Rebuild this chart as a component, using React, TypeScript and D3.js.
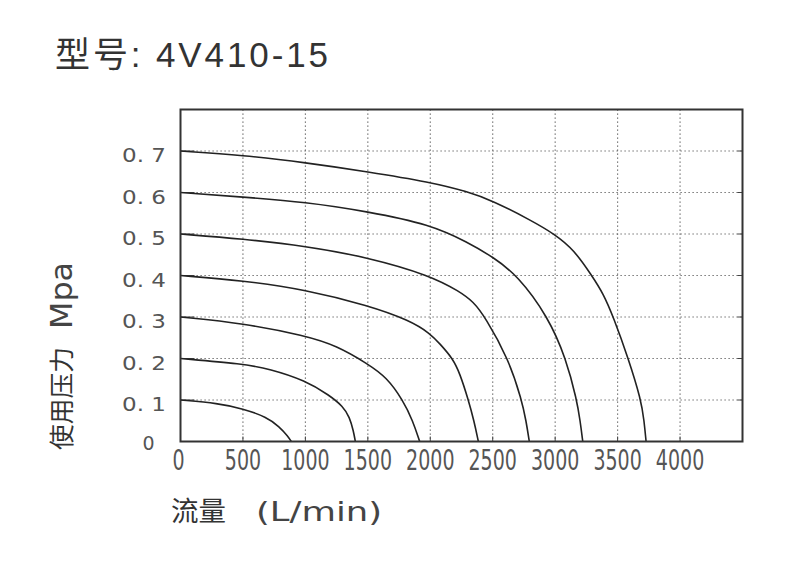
import React from "react";
import * as d3 from "d3";

// ---- data ----
const xTicks = [0, 500, 1000, 1500, 2000, 2500, 3000, 3500, 4000];
const yTicks = [0.1, 0.2, 0.3, 0.4, 0.5, 0.6, 0.7];
const yTickLabels = ["0. 1", "0. 2", "0. 3", "0. 4", "0. 5", "0. 6", "0. 7"];

const curve01: [number, number][] = [[0, 0.1], [300, 0.092], [500, 0.079], [690, 0.059], [790, 0.036], [860, 0.013], [887, 0]];
const curve02: [number, number][] = [[0, 0.2], [500, 0.187], [713, 0.175], [1000, 0.147], [1194, 0.111], [1300, 0.085], [1354, 0.059], [1385, 0.025], [1400, 0]];
const curve03: [number, number][] = [[0, 0.3], [500, 0.285], [1000, 0.255], [1250, 0.231], [1500, 0.187], [1650, 0.155], [1780, 0.1], [1860, 0.05], [1915, 0]];
const curve04: [number, number][] = [[0, 0.4], [500, 0.388], [1000, 0.366], [1500, 0.328], [1835, 0.292], [2000, 0.26], [2075, 0.236], [2180, 0.2], [2237, 0.164], [2305, 0.1], [2350, 0.05], [2385, 0]];
const curve05: [number, number][] = [[0, 0.5], [500, 0.488], [1000, 0.471], [1500, 0.444], [2000, 0.4], [2237, 0.361], [2344, 0.337], [2439, 0.3], [2625, 0.2], [2732, 0.1], [2767, 0.05], [2793, 0]];
const curve06: [number, number][] = [[0, 0.6], [500, 0.589], [1000, 0.577], [1500, 0.554], [2000, 0.523], [2300, 0.48], [2500, 0.445], [2700, 0.4], [2944, 0.3], [3087, 0.2], [3173, 0.1], [3200, 0.05], [3221, 0]];
const curve07: [number, number][] = [[0, 0.7], [500, 0.69], [1000, 0.672], [1500, 0.65], [2000, 0.625], [2300, 0.602], [2500, 0.58], [2800, 0.534], [3000, 0.499], [3150, 0.462], [3293, 0.4], [3386, 0.356], [3466, 0.3], [3586, 0.2], [3688, 0.1], [3712, 0.05], [3728, 0]];
const curves = [curve01, curve02, curve03, curve04, curve05, curve06, curve07];

const title = "型号: 4V410-15";
const yTitleCJK = "使用压力";
const yTitleUnit = "Mpa";
const xTitleCJK = "流量";
const xTitleUnit = "(L/min)";

export default function App() {
  const W = 800, H = 575;
  const left = 180.5, right = 742.5, top = 109.5, bottom = 441.5;
  const x = d3.scaleLinear().domain([0, 4500]).range([left, right]);
  const y = d3.scaleLinear().domain([0, 0.8]).range([bottom, top]);
  const line = d3.line<[number, number]>().x(d => x(d[0])).y(d => y(d[1])).curve(d3.curveBasis);
  const tickFont = "'DejaVu Sans', sans-serif";
  const grid = "#555";

  return (
    <svg width={W} height={H} style={{ position: "absolute", left: 0, top: 0, background: "#fff" }}>
      <rect x={0} y={0} width={W} height={H} fill="#fff" />
      {/* title */}
      <text x={55} y={67} fontSize={35} fill="#333" textLength={273} lengthAdjust="spacing"
        fontFamily="'Liberation Sans', 'Noto Sans CJK SC', sans-serif">{title}</text>

      {/* grid */}
      {yTicks.map(t => (
        <line key={"gy" + t} x1={left} x2={right} y1={y(t)} y2={y(t)} stroke={grid} strokeWidth={1.1} strokeDasharray="1.2 2.8" />
      ))}
      {xTicks.filter(t => t > 0).map(t => (
        <line key={"gx" + t} x1={x(t)} x2={x(t)} y1={top} y2={bottom} stroke={grid} strokeWidth={1.1} strokeDasharray="1.2 2.8" />
      ))}
      {/* inner ticks */}
      {yTicks.map(t => (
        <g key={"ty" + t}>
          <line x1={left} x2={left + 14} y1={y(t)} y2={y(t)} stroke="#444" strokeWidth={1} />
          <line x1={right - 5} x2={right} y1={y(t)} y2={y(t)} stroke="#444" strokeWidth={1} />
        </g>
      ))}
      {xTicks.filter(t => t > 0).map(t => (
        <line key={"tx" + t} x1={x(t)} x2={x(t)} y1={bottom - 5} y2={bottom} stroke="#444" strokeWidth={1} />
      ))}

      {/* curves */}
      {curves.map((c, i) => (
        <path key={"c" + i} d={line(c) || ""} fill="none" stroke="#222" strokeWidth={1.6} />
      ))}

      {/* frame */}
      <rect x={left} y={top} width={right - left} height={bottom - top} fill="none" stroke="#333" strokeWidth={2} />

      {/* y tick labels */}
      {yTicks.map((t, i) => (
        <text key={"yl" + t} x={122} y={y(t) + 11} fontSize={19} fill="#555" fontFamily={tickFont}
          textLength={44} lengthAdjust="spacingAndGlyphs" style={{ whiteSpace: "pre" }}>{yTickLabels[i]}</text>
      ))}
      <text x={148.5} y={450} fontSize={19} fill="#555" fontFamily={tickFont} textAnchor="middle">0</text>

      {/* x tick labels */}
      {xTicks.map(t => (
        <text key={"xl" + t} transform={`translate(${x(t) - (t === 0 ? 2 : 0)},470) scale(0.68,1)`} fontSize={28} fill="#555"
          fontFamily={tickFont} textAnchor="middle">{String(t)}</text>
      ))}

      {/* y axis title */}
      <g transform="translate(71,0) rotate(-90)">
        <text x={-450} y={0} fontSize={25} fill="#333" fontFamily="'Noto Sans CJK SC', sans-serif"
          textLength={103} lengthAdjust="spacingAndGlyphs">{yTitleCJK}</text>
        <text x={-329} y={1} fontSize={31} fill="#444" fontFamily="'DejaVu Sans', sans-serif"
          textLength={67} lengthAdjust="spacingAndGlyphs">{yTitleUnit}</text>
      </g>

      {/* x axis title */}
      <text x={171} y={521} fontSize={27} fill="#333" fontFamily="'Noto Sans CJK SC', sans-serif"
        textLength={55} lengthAdjust="spacingAndGlyphs">{xTitleCJK}</text>
      <text x={256} y={521} fontSize={27} fill="#444" fontFamily="'DejaVu Sans', sans-serif"
        textLength={126} lengthAdjust="spacingAndGlyphs">{xTitleUnit}</text>
    </svg>
  );
}
